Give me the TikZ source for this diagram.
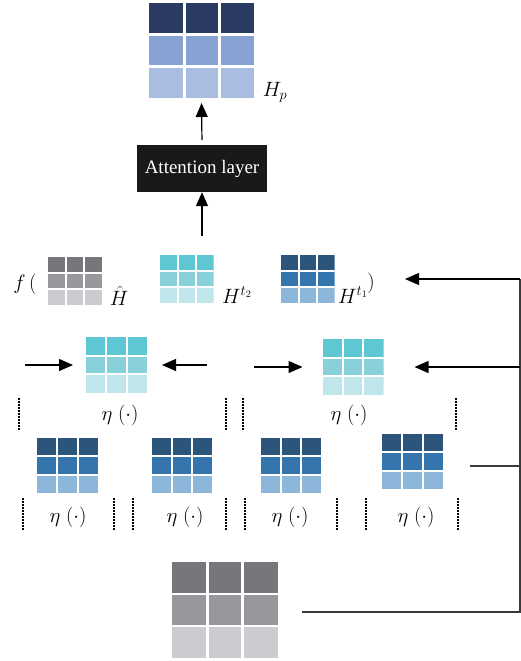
\documentclass[tikz,border=0pt]{standalone}
\usepackage{fontspec}
\setmainfont{Liberation Serif}
\usetikzlibrary{arrows.meta,calc}
\definecolor{hpA}{HTML}{2C3B63}
\definecolor{hpB}{HTML}{87A2D2}
\definecolor{hpC}{HTML}{A9BDE1}
\definecolor{gyA}{HTML}{76777B}
\definecolor{gyB}{HTML}{97989C}
\definecolor{gyC}{HTML}{CBCCCF}
\definecolor{cyA}{HTML}{5FC7D3}
\definecolor{cyB}{HTML}{88D1DA}
\definecolor{cyC}{HTML}{BFE6EB}
\definecolor{blA}{HTML}{2B557A}
\definecolor{blB}{HTML}{3475AE}
\definecolor{blC}{HTML}{8CB7DA}
\definecolor{linegray}{HTML}{3A3A3A}
\tikzset{
  cellgrid/.style n args={4}{inner sep=0pt, outer sep=0pt, draw=none,
    path picture={
      \coordinate (ppNW) at (path picture bounding box.north west);
      \coordinate (ppNE) at (path picture bounding box.north east);
      \coordinate (ppSW) at (path picture bounding box.south west);
      \coordinate (ppSE) at (path picture bounding box.south east);
      \fill[#1] (ppNW) rectangle ($(ppNE)!1/3!(ppSE)$);
      \fill[#2] ($(ppNW)!1/3!(ppSW)$) rectangle ($(ppNE)!2/3!(ppSE)$);
      \fill[#3] ($(ppNW)!2/3!(ppSW)$) rectangle (ppSE);
      \draw[white, line width=#4] ($(ppNW)!1/3!(ppNE)$) -- ($(ppSW)!1/3!(ppSE)$);
      \draw[white, line width=#4] ($(ppNW)!2/3!(ppNE)$) -- ($(ppSW)!2/3!(ppSE)$);
      \draw[white, line width=#4] ($(ppNW)!1/3!(ppSW)$) -- ($(ppNE)!1/3!(ppSE)$);
      \draw[white, line width=#4] ($(ppNW)!2/3!(ppSW)$) -- ($(ppNE)!2/3!(ppSE)$);
    }},
  smallgrid/.style={minimum width=54pt, minimum height=48pt},
  midgrid/.style={minimum width=61pt, minimum height=56pt},
  arr/.style={draw=black, line width=1.2pt, -{Triangle[length=14pt,width=12pt]}},
  plainline/.style={draw=linegray, line width=1.2pt},
  dots/.style={draw=black, line width=1.4pt, dash pattern=on 1.6pt off 1.4pt},
  mathlbl/.style={inner sep=0pt, font=\fontsize{20}{22}\selectfont},
  attnbox/.style={fill=black!90, text=white, minimum width=130pt, minimum height=47pt, inner sep=0pt, font=\fontsize{19}{21}\selectfont}
}
\begin{document}
\begin{tikzpicture}[x=1pt,y=-1pt]
\useasboundingbox (0,0) rectangle (521,661);

% top
\node[cellgrid={hpA}{hpB}{hpC}{3pt}, minimum width=105pt, minimum height=95pt] (Hp) at (201.5,50.5) {};
\node[mathlbl] (lHp) at (275,92) {$H_p$};
\node[attnbox] (attn) at (202,168.5) {Attention layer};
\draw[arr, shorten <=5pt, shorten >=5pt] (attn.north) -- (Hp.south);
\coordinate (fin) at (202,236);
\draw[arr] (fin) -- (attn.south);

% f( ... ) row
\node[mathlbl] (lf) at (25,284) {$f\,($};
\node[cellgrid={gyA}{gyB}{gyC}{2pt}, smallgrid] (ghat) at (75,281) {};
\node[mathlbl] (lghat) at (119,296) {$\hat{H}$};
\node[cellgrid={cyA}{cyB}{cyC}{2pt}, smallgrid] (h2) at (186.5,279) {};
\node[mathlbl] (lh2) at (237,295) {$H^{t_2}$};
\node[cellgrid={blA}{blB}{blC}{2pt}, smallgrid] (h1) at (307.5,279) {};
\node[mathlbl] (lh1) at (353,295) {$H^{t_1}$};
\node[mathlbl] (lclose) at (371,283) {$)$};

% second level
\node[cellgrid={cyA}{cyB}{cyC}{2pt}, midgrid] (c1) at (116.5,365) {};
\node[cellgrid={cyA}{cyB}{cyC}{2pt}, midgrid] (c2) at (353,367) {};
\node[mathlbl] (e1) at (120,415) {$\eta\;(\cdot)$};
\node[mathlbl] (e2) at (349,415) {$\eta\;(\cdot)$};
\coordinate (a1s) at (25,365);
\coordinate (a2s) at (207,365);
\coordinate (a3s) at (254,367);
\draw[arr, shorten >=13pt] (a1s) -- (c1.west |- a1s);
\draw[arr, shorten >=15pt] (a2s) -- (c1.east |- a2s);
\draw[arr, shorten >=20pt] (a3s) -- (c2.west |- a3s);
\foreach \x [count=\i] in {19,226,243,456}{
  \coordinate (dt\i) at (\x,398);
  \coordinate (db\i) at (\x,430);
  \draw[dots] (dt\i) -- (db\i);
}

% third level
\node[cellgrid={blA}{blB}{blC}{2pt}, midgrid, minimum height=55pt] (b1) at (67.5,465.5) {};
\node[cellgrid={blA}{blB}{blC}{2pt}, midgrid, minimum height=55pt, minimum width=60pt] (b2) at (182,465.5) {};
\node[cellgrid={blA}{blB}{blC}{2pt}, midgrid, minimum height=55pt, minimum width=60pt] (b3) at (291,465.5) {};
\node[cellgrid={blA}{blB}{blC}{2pt}, midgrid, minimum height=55pt] (b4) at (412.5,461.5) {};
\node[mathlbl] (e3) at (68,517) {$\eta\;(\cdot)$};
\node[mathlbl] (e4) at (185,517) {$\eta\;(\cdot)$};
\node[mathlbl] (e5) at (290,517) {$\eta\;(\cdot)$};
\node[mathlbl] (e6) at (416,517) {$\eta\;(\cdot)$};
\foreach \x [count=\i] in {23,114,133,226,245,337,366,458}{
  \coordinate (et\i) at (\x,498);
  \coordinate (eb\i) at (\x,530);
  \draw[dots] (et\i) -- (eb\i);
}

% bottom
\node[cellgrid={gyA}{gyB}{gyC}{2.5pt}, minimum width=106pt, minimum height=96pt] (bot) at (225,610) {};

% feedback path
\coordinate (rb) at (520,612);
\coordinate (rt) at (520,279);
\coordinate (rm) at (520,367);
\coordinate (rl) at (520,466);
\coordinate (fbend) at (405,279);
\coordinate (b4s) at (470,466);
\draw[plainline] (302,612) -- (rb) -- (rt);
\draw[arr] (rt) -- (fbend);
\draw[arr, shorten >=31pt] (rm) -- (c2.east |- rm);
\draw[plainline] (b4s) -- (rl);
\end{tikzpicture}
\end{document}
